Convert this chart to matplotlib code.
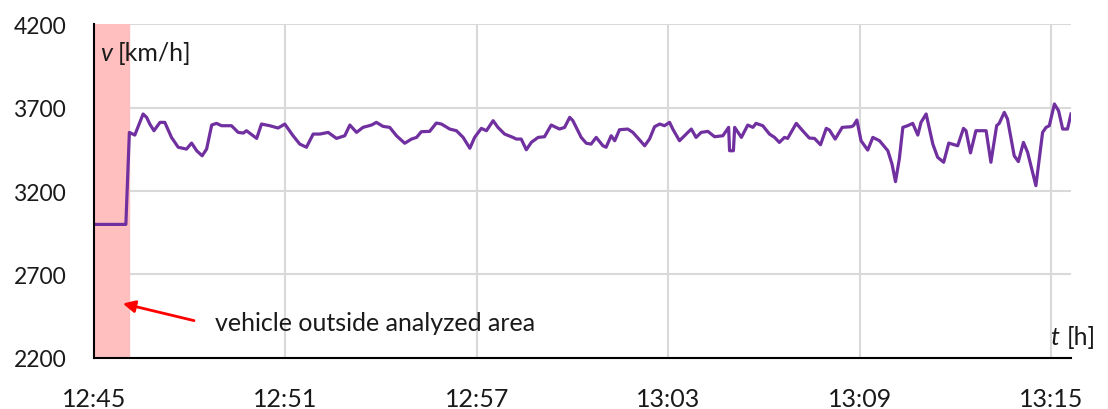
import matplotlib.pyplot as plt

plt.rcParams['font.family'] = ['Lato', 'DejaVu Sans']

# minutes after 12:45
t_min = [0.00, 1.00, 1.11, 1.28, 1.54, 1.65, 1.75, 1.88, 2.07, 2.22, 2.43, 2.64, 2.90,
         3.06, 3.22, 3.39, 3.53, 3.69, 3.84, 4.00, 4.31, 4.52, 4.68, 4.78, 5.10, 5.25,
         5.51, 5.77, 5.98, 6.24, 6.45, 6.66, 6.87, 7.08, 7.34, 7.60, 7.86, 8.02, 8.23,
         8.43, 8.70, 8.85, 9.06, 9.27, 9.48, 9.74, 9.95, 10.11, 10.26, 10.52, 10.73,
         10.89, 11.15, 11.36, 11.57, 11.78, 11.93, 12.14, 12.30, 12.51, 12.66, 12.87,
         13.13, 13.24, 13.39, 13.55, 13.71, 13.92, 14.12, 14.33, 14.59, 14.75, 14.91,
         15.01, 15.27, 15.43, 15.58, 15.74, 15.95, 16.05, 16.21, 16.32, 16.47, 16.73,
         16.89, 17.26, 17.41, 17.57, 17.73, 17.88, 18.04, 18.14, 18.35, 18.51, 18.72,
         18.87, 19.03, 19.24, 19.45, 19.71, 19.89, 19.92, 20.04, 20.08, 20.29, 20.49,
         20.65, 20.75, 20.96, 21.17, 21.33, 21.48, 21.64, 21.74, 22.01, 22.21, 22.42,
         22.58, 22.77, 22.95, 23.05, 23.23, 23.45, 23.73, 23.80, 23.91, 24.04, 24.25,
         24.41, 24.62, 24.88, 25.01, 25.12, 25.24, 25.35, 25.50, 25.66, 25.82, 25.92,
         26.08, 26.29, 26.44, 26.63, 26.79, 27.07, 27.25, 27.33, 27.47, 27.64, 27.96,
         28.11, 28.29, 28.37, 28.53, 28.63, 28.84, 28.97, 29.13, 29.26, 29.52, 29.73,
         29.84, 29.94, 30.10, 30.23, 30.36, 30.51, 30.62]
speed = [3000, 3000, 3551, 3535, 3661, 3641, 3601, 3561, 3611, 3611, 3521, 3462, 3451,
         3487, 3441, 3411, 3451, 3595, 3605, 3591, 3591, 3551, 3547, 3561, 3515, 3601,
         3591, 3577, 3601, 3531, 3481, 3462, 3541, 3541, 3551, 3515, 3531, 3595, 3551,
         3581, 3595, 3611, 3587, 3581, 3531, 3486, 3511, 3521, 3555, 3557, 3607,
         3601, 3571, 3561, 3521, 3456, 3521, 3575, 3561, 3621, 3581, 3541,
         3521, 3511, 3511, 3447, 3492, 3521, 3525, 3595, 3571, 3581, 3641,
         3621, 3521, 3486, 3481, 3521, 3471, 3462, 3531, 3501, 3567, 3571,
         3551, 3471, 3511, 3585, 3601, 3591, 3611, 3571, 3501, 3531, 3571,
         3521, 3551, 3557, 3525, 3531, 3581, 3441, 3441, 3581, 3521, 3595,
         3581, 3605, 3591, 3541, 3521, 3491, 3521, 3515, 3605, 3561, 3517,
         3515, 3477, 3575, 3565, 3511, 3581, 3585, 3591, 3625, 3501, 3445,
         3521, 3501, 3441, 3362, 3256, 3392, 3581, 3591, 3605, 3535, 3611,
         3661, 3481, 3402, 3372, 3487, 3471, 3575, 3561, 3428, 3561, 3561,
         3372, 3591, 3605, 3671, 3631, 3411, 3376, 3491, 3432, 3232, 3551,
         3581, 3591, 3721, 3681, 3571, 3571, 3661]

tick_min = [0, 6, 12, 18, 24, 30]
tick_labels = ['12:45', '12:51', '12:57', '13:03', '13:09', '13:15']
y_ticks = [2200, 2700, 3200, 3700, 4200]
outside_end = 1.1

txt = '#1A1A1A'
fs = 18

fig = plt.figure(figsize=(11.08, 4.10), dpi=100)
ax = fig.add_axes([0.0848, 0.1244, 0.8818, 0.8146])

ax.axvspan(0, outside_end, color='#FFBFBF', zorder=1)
ax.plot(t_min, speed, color='#7030A0', linewidth=2.3, zorder=3)

ax.set_xlim(0, 30.62)
ax.set_ylim(2200, 4200)
ax.set_xticks(tick_min)
ax.set_xticklabels(tick_labels)
ax.set_yticks(y_ticks)
ax.grid(True, color='#D9D9D9', linewidth=1.5, zorder=0)
ax.set_axisbelow(True)
ax.tick_params(length=0, colors=txt)
ax.tick_params(axis='y', pad=20, labelsize=16.5)
ax.tick_params(axis='x', pad=21, labelsize=fs)

for s in ['top', 'right']:
    ax.spines[s].set_visible(False)
for s in ['left', 'bottom']:
    ax.spines[s].set_linewidth(1.5)
    ax.spines[s].set_color('black')
    ax.spines[s].set_zorder(4)

ax.text(0.2, 4030, 'v', style='italic', fontsize=fs, color=txt, va='center', ha='left', zorder=5)
ax.text(0.75, 4030, '[km/h]', fontsize=fs, color=txt, va='center', ha='left', zorder=5)
ax.text(29.95, 2330, 't', style='italic', fontsize=fs, color=txt, va='center', ha='left',
        clip_on=False)
ax.text(30.5, 2330, '[h]', fontsize=fs, color=txt, va='center', ha='left', clip_on=False)

ax.annotate('', xy=(0.82, 2530), xytext=(3.22, 2420),
            arrowprops=dict(arrowstyle='-|>', color='red', lw=2, mutation_scale=18))
ax.text(3.8, 2410, 'vehicle outside analyzed area', fontsize=fs, color=txt,
        va='center', ha='left')

fig.savefig('out.png', dpi=100)
